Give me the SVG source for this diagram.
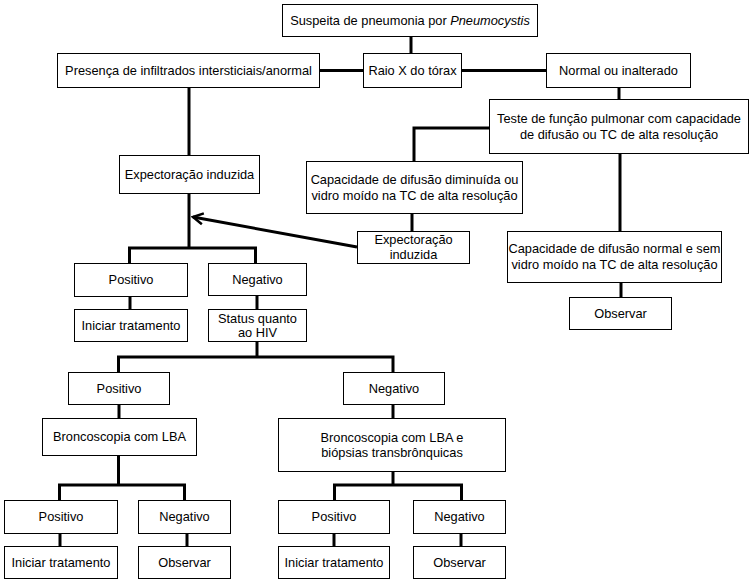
<svg xmlns="http://www.w3.org/2000/svg" width="750" height="585" viewBox="0 0 750 585">
<defs>
<style>
.b{fill:#fff;stroke:#000;stroke-width:1}
.t{font-family:"Liberation Sans",Arial,sans-serif;font-size:12.8px;fill:#000;text-anchor:middle}
.c{fill:none;stroke:#000;stroke-width:3}
</style>
<marker id="ah" viewBox="0 0 14 14" refX="12" refY="7" markerWidth="14" markerHeight="14" markerUnits="userSpaceOnUse" orient="auto">
<path d="M2 1.5 L12 7 L2 12.5" fill="none" stroke="#000" stroke-width="2.5"/>
</marker>
</defs>
<rect width="750" height="585" fill="#fff"/>
<g id="connectors">
<path class="c" d="M411 36V53"/>
<path class="c" d="M319 70.5H363"/>
<path class="c" d="M461 70.5H546"/>
<path class="c" d="M619 87V99"/>
<path class="c" d="M489 128H414V161"/>
<path class="c" d="M620 153V231"/>
<path class="c" d="M189 87V155"/>
<path class="c" d="M189 193V248"/>
<path class="c" d="M129.5 263V248H255.5V263"/>
<path class="c" d="M412 213V231"/>
<path class="c" d="M130 296V309"/>
<path class="c" d="M257 295V309"/>
<path class="c" d="M257 341V357"/>
<path class="c" d="M118.5 372V357H393V372"/>
<path class="c" d="M119 404V418"/>
<path class="c" d="M118.5 455V485"/>
<path class="c" d="M59.5 500V485H184.5V500"/>
<path class="c" d="M60 533V546"/>
<path class="c" d="M187 533V546"/>
<path class="c" d="M393 404V418"/>
<path class="c" d="M393 471V485"/>
<path class="c" d="M334.5 500V485H461.5V500"/>
<path class="c" d="M334 533V546"/>
<path class="c" d="M461 533V546"/>
<path class="c" d="M621 282V297"/>
<path d="M357 247L193 217" fill="none" stroke="#000" stroke-width="3" marker-end="url(#ah)"/>
</g>
<g id="n1"><rect class="b" x="282.5" y="4.5" width="255" height="32"/><text class="t" x="410" y="24.5">Suspeita de pneumonia por <tspan font-style="italic">Pneumocystis</tspan></text></g>
<g id="n2"><rect class="b" x="57.5" y="53.5" width="262" height="34"/><text class="t" x="188.5" y="75">Presença de infiltrados intersticiais/anormal</text></g>
<g id="n3"><rect class="b" x="363.5" y="53.5" width="98" height="34"/><text class="t" x="412.5" y="75">Raio X do tórax</text></g>
<g id="n4"><rect class="b" x="546.5" y="53.5" width="144" height="34"/><text class="t" x="618.5" y="75">Normal ou inalterado</text></g>
<g id="n5"><rect class="b" x="489.5" y="99.5" width="259" height="54"/><text class="t" x="619" y="122.5">Teste de função pulmonar com capacidade</text><text class="t" x="619" y="138.5">de difusão ou TC de alta resolução</text></g>
<g id="n6"><rect class="b" x="119.5" y="155.5" width="140" height="38"/><text class="t" x="189.5" y="178.5">Expectoração induzida</text></g>
<g id="n7"><rect class="b" x="306.5" y="161.5" width="216" height="52"/><text class="t" x="414.5" y="183.5">Capacidade de difusão diminuída ou</text><text class="t" x="414.5" y="199.5">vidro moído na TC de alta resolução</text></g>
<g id="n8"><rect class="b" x="357.5" y="231.5" width="112" height="32"/><text class="t" x="413.5" y="244">Expectoração</text><text class="t" x="413.5" y="259">induzida</text></g>
<g id="n9"><rect class="b" x="507.5" y="231.5" width="214" height="51"/><text class="t" x="614.5" y="253">Capacidade de difusão normal e sem</text><text class="t" x="614.5" y="269">vidro moído na TC de alta resolução</text></g>
<g id="n10"><rect class="b" x="569.5" y="297.5" width="102" height="32"/><text class="t" x="620.5" y="317.5">Observar</text></g>
<g id="n11"><rect class="b" x="74.5" y="263.5" width="113" height="33"/><text class="t" x="131" y="284">Positivo</text></g>
<g id="n12"><rect class="b" x="208.5" y="263.5" width="98" height="32"/><text class="t" x="257.5" y="283.5">Negativo</text></g>
<g id="n13"><rect class="b" x="74.5" y="309.5" width="113" height="32"/><text class="t" x="131" y="330">Iniciar tratamento</text></g>
<g id="n14"><rect class="b" x="208.5" y="309.5" width="98" height="32"/><text class="t" x="257.5" y="322.5">Status quanto</text><text class="t" x="257.5" y="337">ao HIV</text></g>
<g id="n15"><rect class="b" x="68.5" y="372.5" width="101" height="32"/><text class="t" x="119" y="392.5">Positivo</text></g>
<g id="n16"><rect class="b" x="343.5" y="372.5" width="101" height="32"/><text class="t" x="394" y="392.5">Negativo</text></g>
<g id="n17"><rect class="b" x="42.5" y="418.5" width="154" height="37"/><text class="t" x="119.5" y="441">Broncoscopia com LBA</text></g>
<g id="n18"><rect class="b" x="278.5" y="418.5" width="227" height="53"/><text class="t" x="392" y="441.5">Broncoscopia com LBA e</text><text class="t" x="392" y="456.5">biópsias transbrônquicas</text></g>
<g id="n19"><rect class="b" x="4.5" y="500.5" width="113" height="33"/><text class="t" x="61" y="521">Positivo</text></g>
<g id="n20"><rect class="b" x="138.5" y="500.5" width="92" height="33"/><text class="t" x="184.5" y="521">Negativo</text></g>
<g id="n21"><rect class="b" x="4.5" y="546.5" width="113" height="32"/><text class="t" x="61" y="567">Iniciar tratamento</text></g>
<g id="n22"><rect class="b" x="138.5" y="546.5" width="92" height="32"/><text class="t" x="184.5" y="567">Observar</text></g>
<g id="n23"><rect class="b" x="278.5" y="500.5" width="111" height="33"/><text class="t" x="334" y="521">Positivo</text></g>
<g id="n24"><rect class="b" x="413.5" y="500.5" width="92" height="33"/><text class="t" x="459.5" y="521">Negativo</text></g>
<g id="n25"><rect class="b" x="278.5" y="546.5" width="111" height="32"/><text class="t" x="334" y="567">Iniciar tratamento</text></g>
<g id="n26"><rect class="b" x="413.5" y="546.5" width="92" height="32"/><text class="t" x="459.5" y="567">Observar</text></g>
</svg>
